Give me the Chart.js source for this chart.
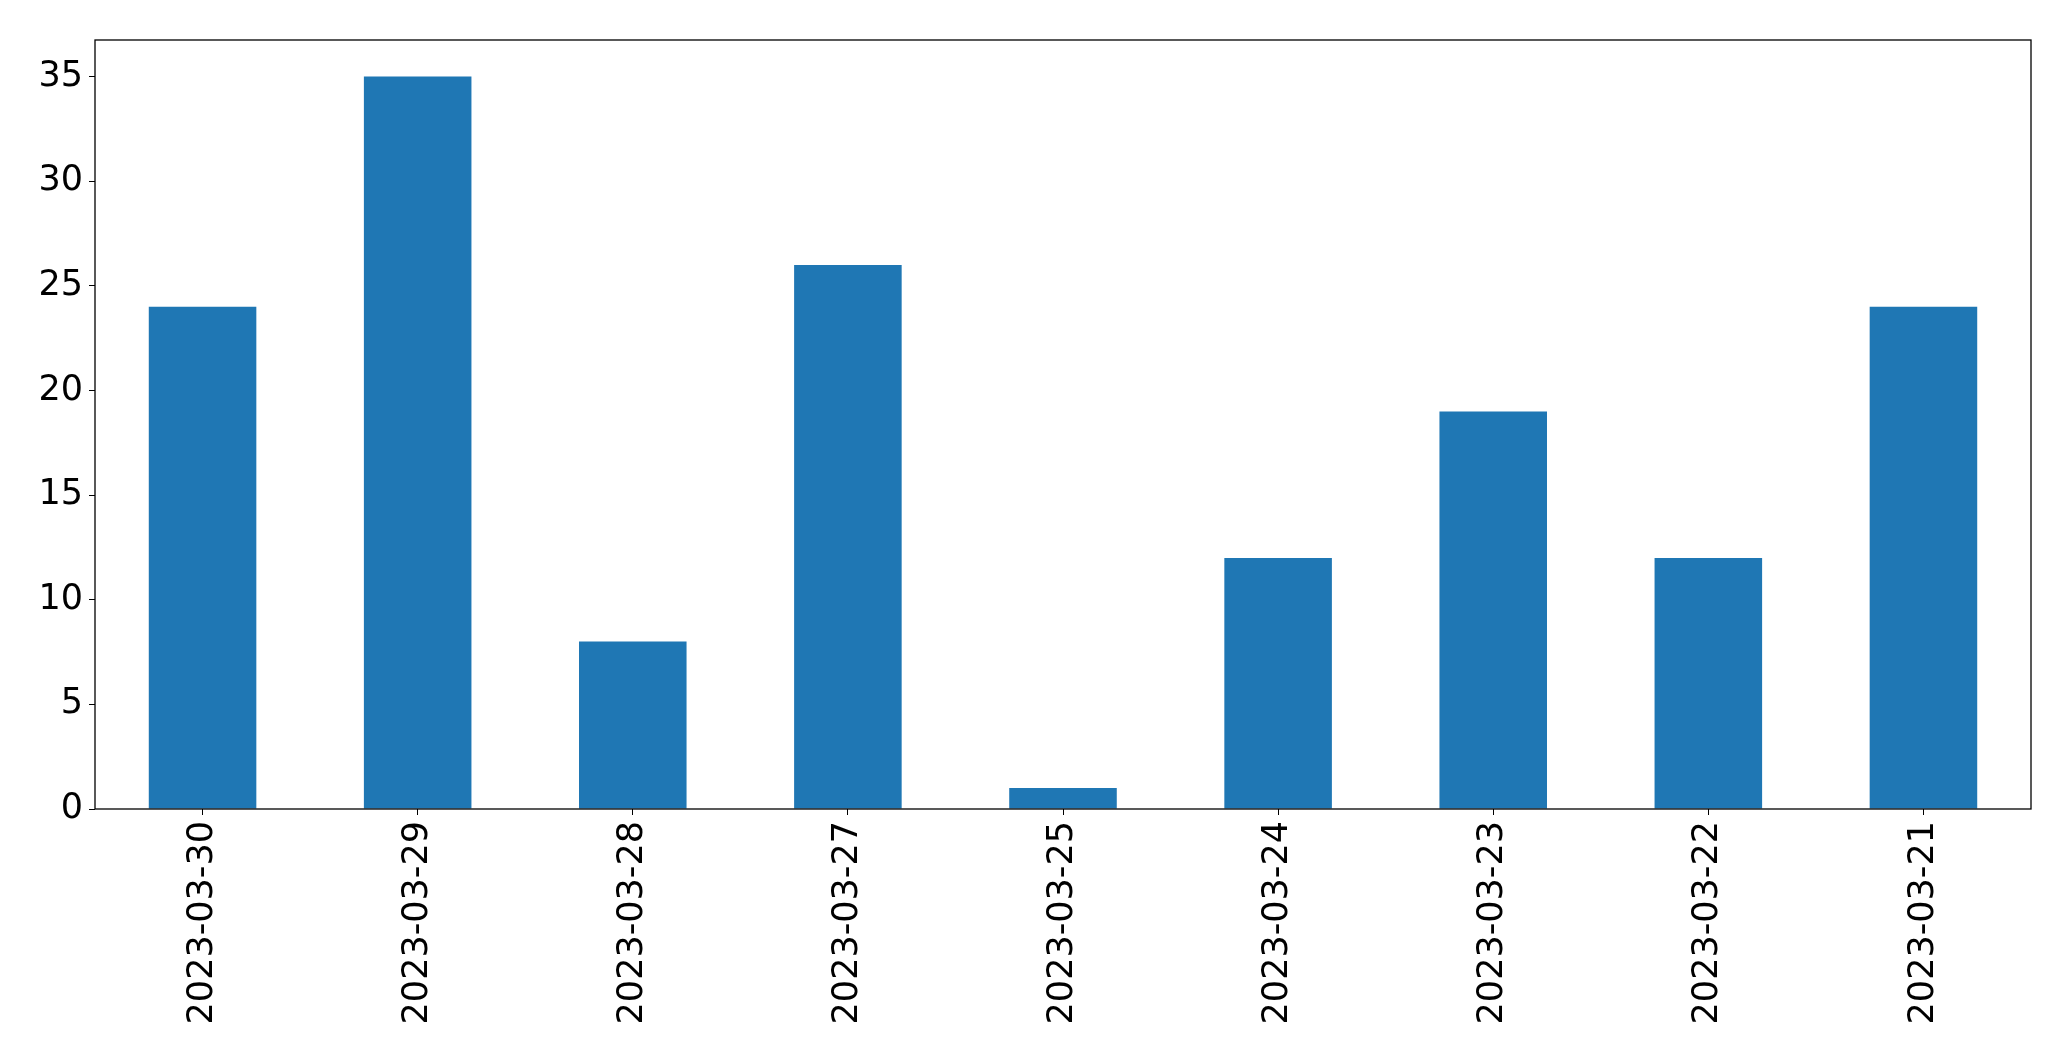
<!DOCTYPE html>
<html>
<head>
<meta charset="utf-8">
<script src="https://cdn.jsdelivr.net/npm/chart.js@4"></script>
<style>
  html, body { margin: 0; padding: 0; background: #fff; }
  #wrap { width: 2071px; height: 1061px; }
</style>
</head>
<body>
<div id="wrap"><canvas id="bar_chart"></canvas></div>
<script>
const dates = ["2023-03-30", "2023-03-29", "2023-03-28", "2023-03-27", "2023-03-25",
               "2023-03-24", "2023-03-23", "2023-03-22", "2023-03-21"];
const counts = [24, 35, 8, 26, 1, 12, 19, 12, 24];
const yTicks = [0, 5, 10, 15, 20, 25, 30, 35];

const tickFont = { family: "DejaVu Sans", size: 35 };

// box around the plot area, like matplotlib spines
const frame = {
    id: 'frame',
    afterDraw(chart) {
        const a = chart.chartArea;
        const ctx = chart.ctx;
        ctx.save();
        ctx.strokeStyle = '#000';
        ctx.lineWidth = 1.3;
        ctx.strokeRect(a.left, a.top, a.right - a.left, a.bottom - a.top);
        ctx.restore();
    }
};

new Chart(document.getElementById('bar_chart'), {
    type: 'bar',
    data: {
        labels: dates,
        datasets: [{
            data: counts,
            backgroundColor: '#1f77b4',
            barPercentage: 0.5,
            categoryPercentage: 1.0
        }]
    },
    options: {
        responsive: true,
        maintainAspectRatio: false,
        animation: false,
        layout: { padding: { top: 40, right: 40, left: 0, bottom: 0 } },
        plugins: {
            legend: { display: false },
            tooltip: { enabled: false }
        },
        scales: {
            x: {
                offset: true,
                grid: { drawOnChartArea: false, drawTicks: true, tickLength: 6, color: '#000', offset: false },
                border: { display: false },
                ticks: { color: '#000', font: tickFont, minRotation: 90, maxRotation: 90, padding: 6, autoSkip: false },
                afterFit(axis) { axis.height = 252; }
            },
            y: {
                min: 0,
                max: 36.75,
                grid: { drawOnChartArea: false, drawTicks: true, tickLength: 6, color: '#000' },
                border: { display: false },
                ticks: { color: '#000', font: tickFont, padding: 6 },
                afterBuildTicks(axis) { axis.ticks = yTicks.map(v => ({ value: v })); },
                afterFit(axis) { axis.width = 95; }
            }
        }
    },
    plugins: [frame]
});
</script>
</body>
</html>
